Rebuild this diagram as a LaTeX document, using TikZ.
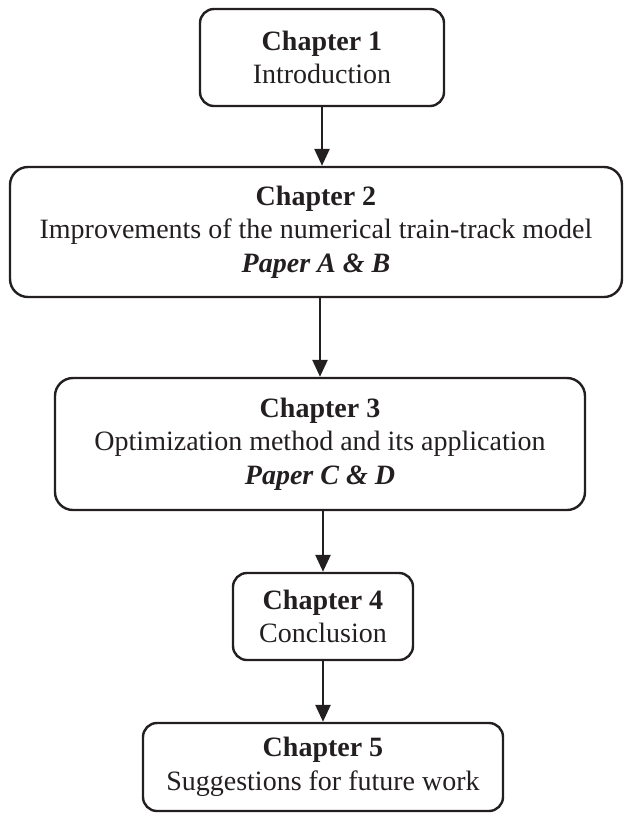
\documentclass[tikz,border=0pt]{standalone}
\usepackage{fontspec}
\setmainfont{Liberation Serif}
\usetikzlibrary{arrows.meta}
\definecolor{inkc}{RGB}{35,31,32}

\begin{document}
\begin{tikzpicture}[
  x=0.5pt, y=-0.5pt,
  >={Triangle[length=8.5pt,width=7.5pt]},
  chap/.style={draw=inkc, line width=1.2pt, rounded corners=7pt, align=center, inner sep=0pt,
               text=inkc, font=\fontsize{14}{16.8}\selectfont},
  flow/.style={->, draw=inkc, line width=1.3pt},   % chapter-to-chapter arrow
]
\useasboundingbox (0,0) rectangle (624,816);

% ============================== chapter boxes ==============================
\node[chap, minimum width=122pt, minimum height=48.5pt] (ch1) at (322,57.5)
  {\textbf{Chapter 1}\\Introduction};
\node[chap, minimum width=306pt, minimum height=65pt, rounded corners=9pt] (ch2) at (316,232)
  {\textbf{Chapter 2}\\Improvements of the numerical train-track model\\\textbf{\textit{Paper A \& B}}};
\node[chap, minimum width=265pt, minimum height=66pt, rounded corners=9pt] (ch3) at (320,444)
  {\textbf{Chapter 3}\\Optimization method and its application\\\textbf{\textit{Paper C \& D}}};
\node[chap, minimum width=90pt, minimum height=43.5pt] (ch4) at (323,616.5)
  {\textbf{Chapter 4}\\Conclusion};
\node[chap, minimum width=180pt, minimum height=44pt] (ch5) at (323,767)
  {\textbf{Chapter 5}\\Suggestions for future work};

% ============================== arrows ==============================
\draw[flow] (ch1.south) -- (ch1.south |- ch2.north);
\draw[flow] (ch3.north |- ch2.south) -- (ch3.north);
\draw[flow] (ch4.north |- ch3.south) -- (ch4.north);
\draw[flow] (ch4.south) -- (ch5.north);
\end{tikzpicture}
\end{document}
